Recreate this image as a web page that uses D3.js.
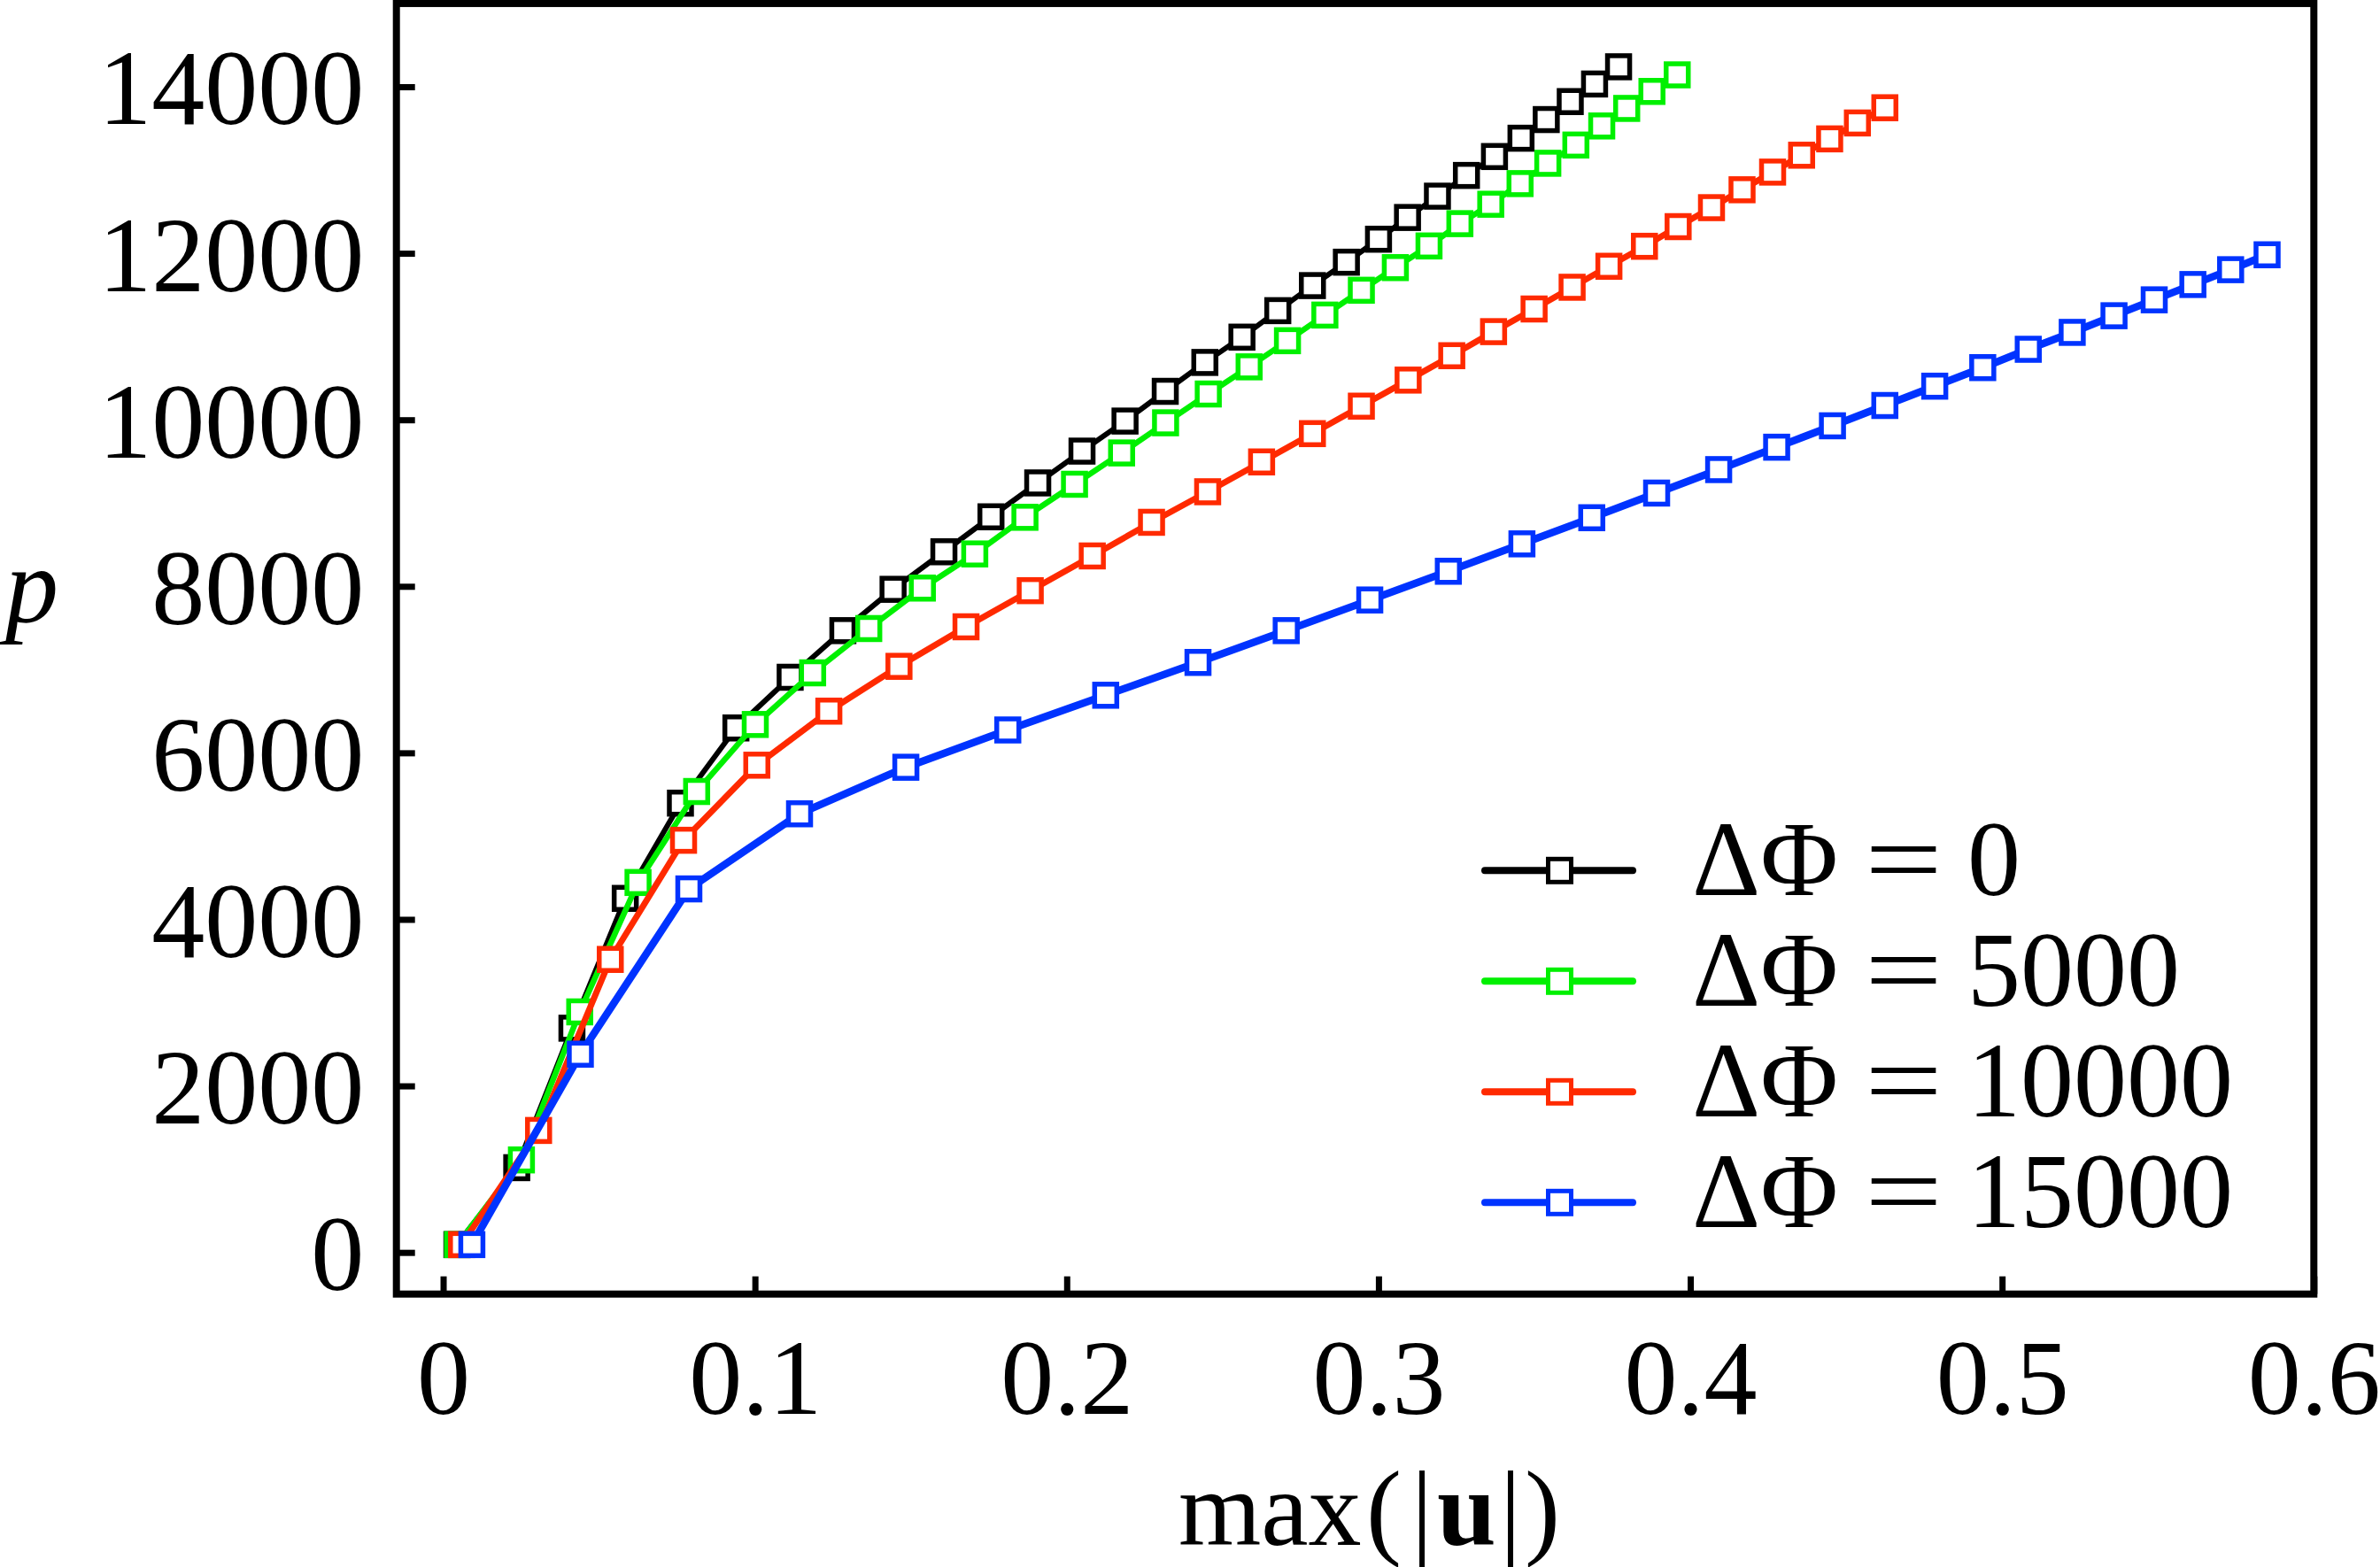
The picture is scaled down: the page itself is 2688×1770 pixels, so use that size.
<!DOCTYPE html>
<html>
<head>
<meta charset="utf-8">
<script src="https://cdn.jsdelivr.net/npm/d3@7"></script>
<style>
  html, body { margin: 0; padding: 0; background: #fff; }
  svg text { font-family: "Liberation Serif", "Times New Roman", serif; fill: #000; }
</style>
</head>
<body>
<svg id="chart" width="2688" height="1770"></svg>
<script>
// ---- data ----
const xBlack = [0.0044,0.0236,0.0413,0.0584,0.0761,0.0939,0.1113,0.1282,0.1443,0.1606,0.1757,0.1907,0.2049,0.2187,0.2316,0.2443,0.2562,0.2677,0.2788,0.2897,0.3000,0.3093,0.3189,0.3282,0.3372,0.3457,0.3538,0.3615,0.3693,0.3770];
const pBlack = [94,1018,2693,4252,5396,6299,6908,7468,7964,8415,8835,9242,9624,9985,10342,10689,10993,11311,11612,11893,12169,12430,12686,12935,13162,13382,13606,13822,14033,14240];

const xGreen = [0.0046,0.0251,0.0438,0.0625,0.0813,0.1001,0.1185,0.1365,0.1537,0.1705,0.1866,0.2025,0.2176,0.2317,0.2454,0.2585,0.2708,0.2828,0.2945,0.3054,0.3162,0.3261,0.3360,0.3454,0.3543,0.3633,0.3716,0.3796,0.3877,0.3958];
const pGreen = [94,1111,2889,4443,5536,6341,6961,7493,7979,8389,8829,9226,9602,9964,10310,10636,10950,11258,11556,11828,12088,12356,12589,12837,13081,13300,13529,13740,13944,14143];

const xRed = [0.0059,0.0306,0.0536,0.0771,0.1006,0.1237,0.1462,0.1677,0.1883,0.2082,0.2272,0.2452,0.2625,0.2788,0.2945,0.3095,0.3235,0.3369,0.3499,0.3621,0.3739,0.3853,0.3961,0.4068,0.4166,0.4264,0.4357,0.4447,0.4536,0.4624];
const pRed = [94,1465,3519,4950,5852,6501,7039,7514,7948,8365,8769,9136,9494,9834,10164,10477,10770,11059,11331,11592,11844,12084,12320,12548,12763,12975,13178,13374,13565,13748];

const xBlue = [0.0092,0.0440,0.0788,0.1143,0.1484,0.1811,0.2125,0.2421,0.2704,0.2972,0.3224,0.3460,0.3684,0.3892,0.4091,0.4277,0.4456,0.4624,0.4784,0.4938,0.5084,0.5225,0.5359,0.5488,0.5612,0.5733,0.5850];
const pBlue = [94,2381,4366,5268,5827,6275,6692,7086,7468,7836,8181,8510,8824,9120,9402,9671,9928,10172,10404,10627,10847,11050,11250,11441,11625,11803,11982];

const legendValues = ["0", "5000", "10000", "15000"];
const seriesColors = ["#000000", "#00f000", "#ff2a00", "#0033ff"];
const lineWidths = [6, 6.5, 7, 8.5];
const xTicks = [0, 0.1, 0.2, 0.3, 0.4, 0.5, 0.6];
const yTicks = [0, 2000, 4000, 6000, 8000, 10000, 12000, 14000];

// ---- layout ----
const svg = d3.select("#chart");
const x = d3.scaleLinear().domain([-0.015, 0.6]).range([447.7, 2613.3]);
const y = d3.scaleLinear().domain([-500, 15000]).range([1461.7, 3.95]);

const series = [
  {xs: xBlack, ps: pBlack},
  {xs: xGreen, ps: pGreen},
  {xs: xRed, ps: pRed},
  {xs: xBlue, ps: pBlue}
].map((s, i) => ({
  pts: s.xs.map((v, j) => [v, s.ps[j]]),
  color: seriesColors[i],
  lw: lineWidths[i],
  label: legendValues[i]
}));

// axes (ticks inward)
const yAxis = d3.axisLeft(y).tickValues(yTicks).tickSize(-21).tickPadding(36.5).tickFormat(d3.format("d"));
const gy = svg.append("g").attr("transform", `translate(${x(-0.015)},0)`).call(yAxis);
gy.select(".domain").remove();
gy.selectAll(".tick line").attr("stroke", "#000").attr("stroke-width", 7);
gy.selectAll(".tick text").attr("font-size", 120).attr("dy", "0.35em")
  .style("font-family", "'Liberation Serif', serif");

const xAxis = d3.axisBottom(x).tickValues(xTicks).tickSize(-20).tickPadding(50)
  .tickFormat(d => d === 0 ? "0" : d3.format(".1f")(d));
const gx = svg.append("g").attr("transform", `translate(0,${y(-500)})`).call(xAxis);
gx.select(".domain").remove();
gx.selectAll(".tick line").attr("stroke", "#000").attr("stroke-width", 7);
gx.selectAll(".tick text").attr("font-size", 120).attr("dy", "0.71em")
  .style("font-family", "'Liberation Serif', serif");

// frame
svg.append("rect")
  .attr("x", x(-0.015)).attr("y", y(15000))
  .attr("width", x(0.6) - x(-0.015)).attr("height", y(-500) - y(15000))
  .attr("fill", "none").attr("stroke", "#000").attr("stroke-width", 8);

// series
const line = d3.line().x(d => x(d[0])).y(d => y(d[1]));
const side = 25;
series.forEach(s => {
  const g = svg.append("g");
  g.append("path").datum(s.pts).attr("d", line)
    .attr("fill", "none").attr("stroke", s.color).attr("stroke-width", s.lw)
    .attr("stroke-linejoin", "round").attr("stroke-linecap", "round");
  g.selectAll("rect").data(s.pts).join("rect")
    .attr("x", d => x(d[0]) - side / 2).attr("y", d => y(d[1]) - side / 2)
    .attr("width", side).attr("height", side)
    .attr("fill", "#fff").attr("stroke", s.color).attr("stroke-width", 5.5);
});

// legend
const lg = svg.append("g");
series.forEach((s, i) => {
  const cy = 983.3 + i * 125;
  lg.append("line").attr("x1", 1677).attr("x2", 1844).attr("y1", cy).attr("y2", cy)
    .attr("stroke", s.color).attr("stroke-width", 8).attr("stroke-linecap", "round");
  lg.append("rect").attr("x", 1761.5 - 13).attr("y", cy - 13).attr("width", 26).attr("height", 26)
    .attr("fill", "#fff").attr("stroke", s.color).attr("stroke-width", 5);
  const base = cy + 28;
  lg.append("text").attr("x", 1911).attr("y", base).attr("font-size", 120).text("ΔΦ");
  lg.append("text").attr("x", 2106).attr("y", base).attr("font-size", 120)
    .attr("textLength", 88).attr("lengthAdjust", "spacingAndGlyphs").text("=");
  lg.append("text").attr("x", 2222).attr("y", base).attr("font-size", 120).text(s.label);
});

// axis titles
const xl = svg.append("text").attr("y", 1745).attr("font-size", 120);
xl.append("tspan").attr("x", 1331).text("max");
xl.append("tspan").attr("x", 1543).text("(");
xl.append("tspan").attr("x", 1594).text("|");
xl.append("tspan").attr("x", 1623).attr("font-weight", "bold").text("u");
xl.append("tspan").attr("x", 1694).text("|");
xl.append("tspan").attr("x", 1722).text(")");

svg.append("text").attr("x", 6).attr("y", 702).attr("font-size", 120)
  .attr("font-style", "italic").text("p");
</script>
</body>
</html>
